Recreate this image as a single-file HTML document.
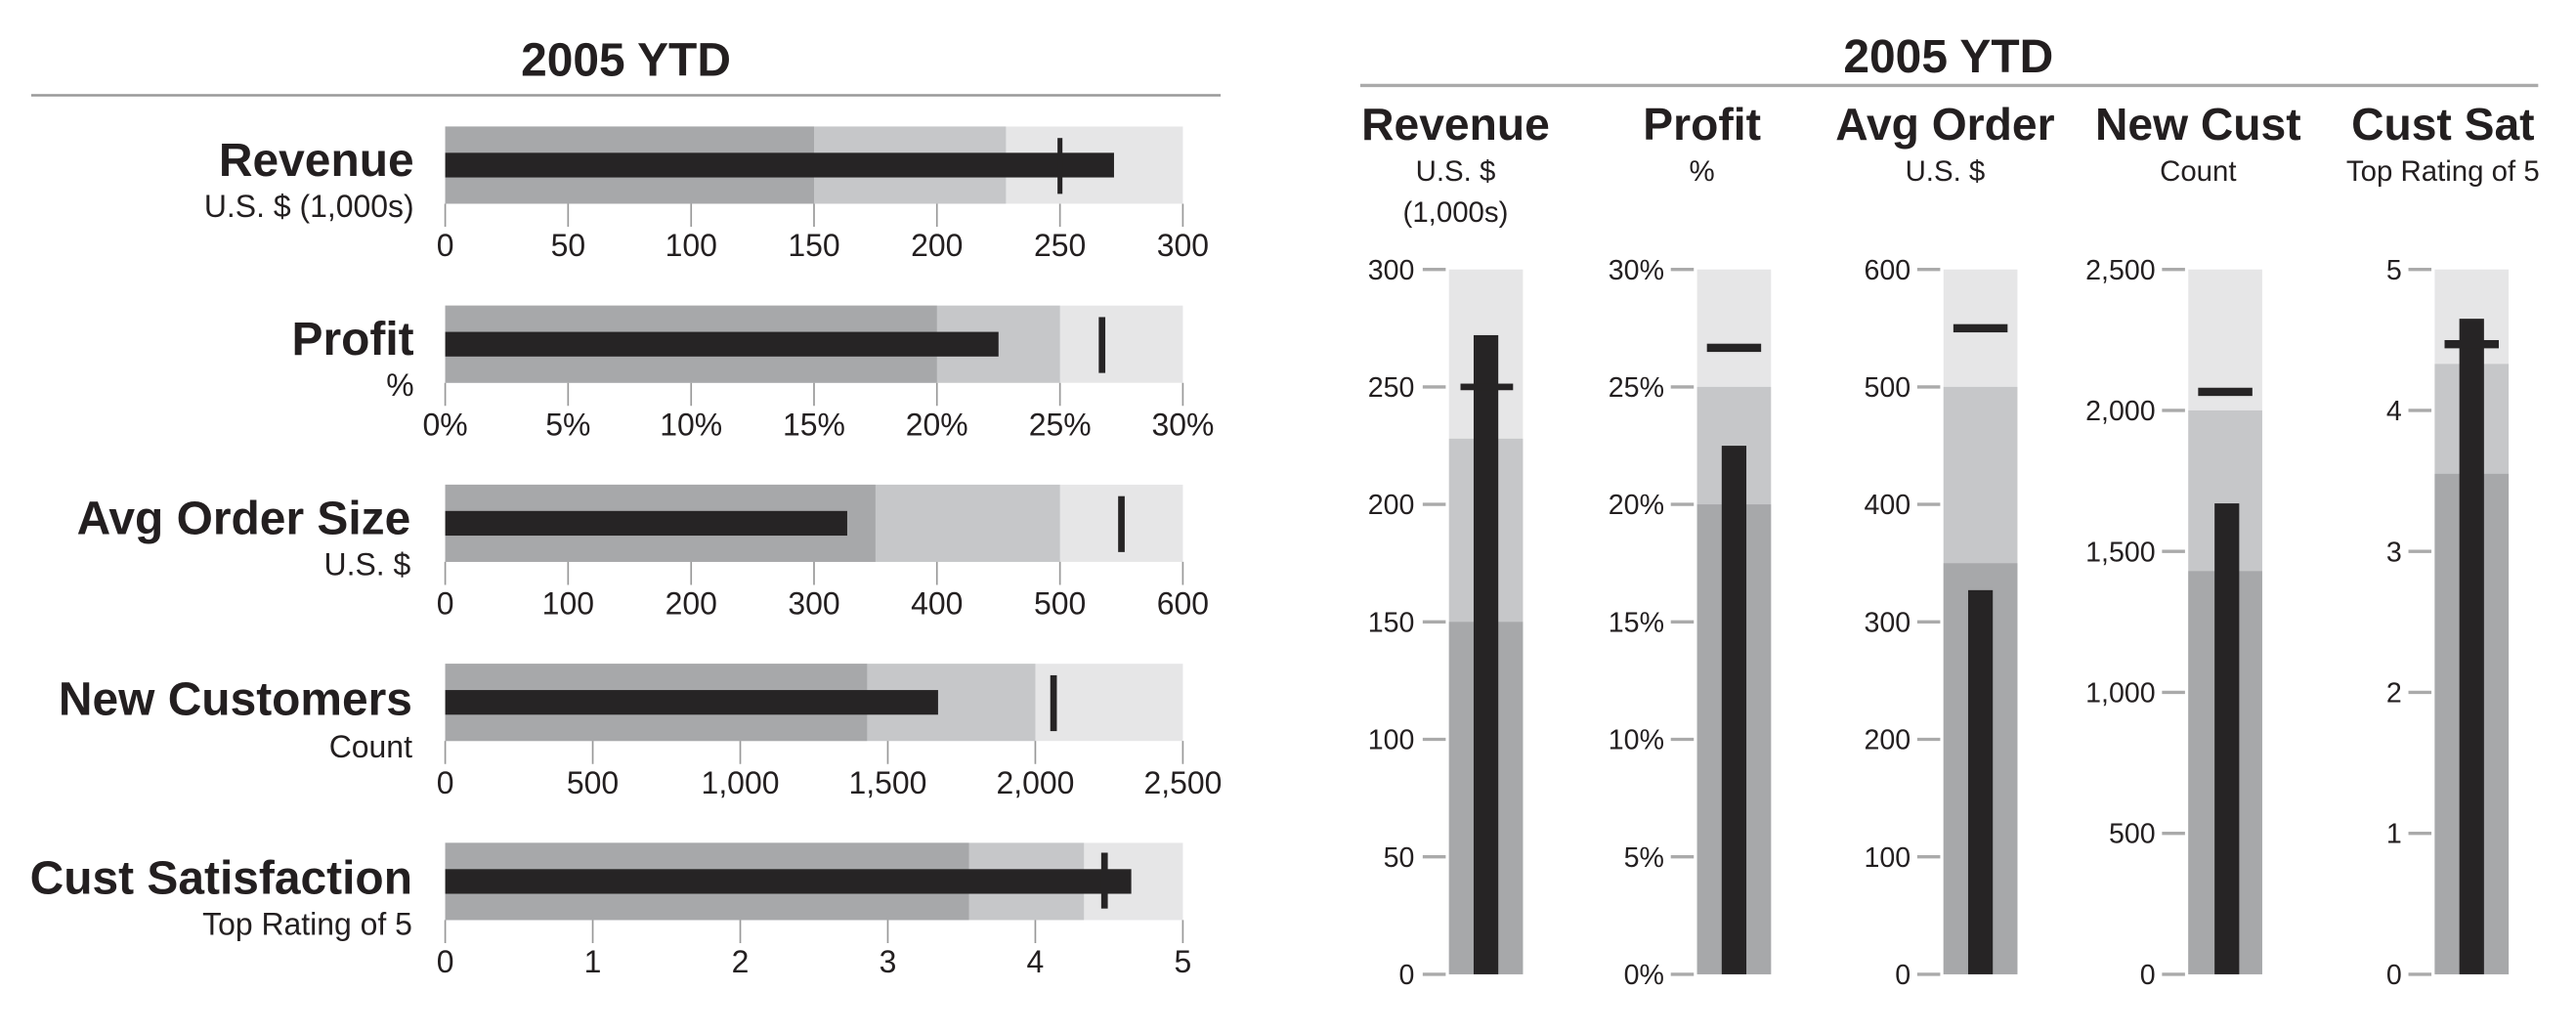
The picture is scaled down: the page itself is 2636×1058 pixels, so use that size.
<!DOCTYPE html>
<html><head><meta charset="utf-8"><style>
html,body{margin:0;padding:0;background:#fff;}
svg{display:block;}
text{fill:#231f20;font-family:"Liberation Sans",sans-serif;}
.t{font-weight:bold;font-size:28.5px;}
.t2{font-weight:bold;font-size:27.5px;}
.s{font-size:19px;}
.s2{font-size:17.5px;}
.r{font-size:17px;}
.k{font-size:19px;}
.d{fill:#a7a8aa}.m{fill:#c6c7c9}.l{fill:#e6e6e7}.a{fill:#262425}
</style></head><body>
<svg width="2636" height="1058" viewBox="0 0 1568 629.35" preserveAspectRatio="none" xmlns="http://www.w3.org/2000/svg">
<rect width="1568" height="630" fill="#fff"/>
<!-- LEFT -->
<text class="t" x="381" y="46" text-anchor="middle">2005 YTD</text>
<line x1="19" y1="58" x2="743" y2="58" stroke="#999" stroke-width="1.5"/>
<g>
<rect class="l" x="271" y="77" width="449" height="47"/>
<rect class="m" x="271" y="77" width="341.3" height="47"/>
<rect class="d" x="271" y="77" width="224.5" height="47"/>
<rect class="a" x="271" y="93" width="407.1" height="15"/>
<rect class="a" x="643.7" y="84" width="3" height="34"/>
<text class="t" x="252" y="107" text-anchor="end">Revenue</text>
<text class="s" x="252" y="132" text-anchor="end">U.S. $ (1,000s)</text>
</g>
<g>
<rect class="l" x="271" y="186" width="449" height="47"/>
<rect class="m" x="271" y="186" width="374.2" height="47"/>
<rect class="d" x="271" y="186" width="299.3" height="47"/>
<rect class="a" x="271" y="202" width="336.8" height="15"/>
<rect class="a" x="668.8" y="193" width="4" height="34"/>
<text class="t" x="252" y="216" text-anchor="end">Profit</text>
<text class="s" x="252" y="241" text-anchor="end">%</text>
</g>
<g>
<rect class="l" x="271" y="295" width="449" height="47"/>
<rect class="m" x="271" y="295" width="374.2" height="47"/>
<rect class="d" x="271" y="295" width="261.9" height="47"/>
<rect class="a" x="271" y="311" width="244.7" height="15"/>
<rect class="a" x="680.6" y="302" width="4" height="34"/>
<text class="t" x="250" y="325" text-anchor="end">Avg Order Size</text>
<text class="s" x="250" y="350" text-anchor="end">U.S. $</text>
</g>
<g>
<rect class="l" x="271" y="404" width="449" height="47"/>
<rect class="m" x="271" y="404" width="359.2" height="47"/>
<rect class="d" x="271" y="404" width="256.8" height="47"/>
<rect class="a" x="271" y="420" width="300" height="15"/>
<rect class="a" x="639.3" y="411" width="4" height="34"/>
<text class="t" x="251" y="435" text-anchor="end">New Customers</text>
<text class="s" x="251" y="461" text-anchor="end">Count</text>
</g>
<g>
<rect class="l" x="271" y="513" width="449" height="47"/>
<rect class="m" x="271" y="513" width="388.8" height="47"/>
<rect class="d" x="271" y="513" width="318.8" height="47"/>
<rect class="a" x="271" y="529" width="417.6" height="15"/>
<rect class="a" x="670.3" y="519" width="4" height="34"/>
<text class="t" x="251" y="544" text-anchor="end">Cust Satisfaction</text>
<text class="s" x="251" y="569" text-anchor="end">Top Rating of 5</text>
</g>
<g stroke="#999" stroke-width="1">
<path d="M271 124v14M345.8 124v14M420.7 124v14M495.5 124v14M570.3 124v14M645.2 124v14M720 124v14"/>
<path d="M271 233v14M345.8 233v14M420.7 233v14M495.5 233v14M570.3 233v14M645.2 233v14M720 233v14"/>
<path d="M271 342v14M345.8 342v14M420.7 342v14M495.5 342v14M570.3 342v14M645.2 342v14M720 342v14"/>
<path d="M271 451v14M360.8 451v14M450.6 451v14M540.4 451v14M630.2 451v14M720 451v14"/>
<path d="M271 560v14M360.8 560v14M450.6 560v14M540.4 560v14M630.2 560v14M720 560v14"/>
</g>
<g text-anchor="middle">
<text class="k" x="271" y="156">0</text><text class="k" x="345.8" y="156">50</text><text class="k" x="420.7" y="156">100</text><text class="k" x="495.5" y="156">150</text><text class="k" x="570.3" y="156">200</text><text class="k" x="645.2" y="156">250</text><text class="k" x="720" y="156">300</text>
<text class="k" x="271" y="265">0%</text><text class="k" x="345.8" y="265">5%</text><text class="k" x="420.7" y="265">10%</text><text class="k" x="495.5" y="265">15%</text><text class="k" x="570.3" y="265">20%</text><text class="k" x="645.2" y="265">25%</text><text class="k" x="720" y="265">30%</text>
<text class="k" x="271" y="374">0</text><text class="k" x="345.8" y="374">100</text><text class="k" x="420.7" y="374">200</text><text class="k" x="495.5" y="374">300</text><text class="k" x="570.3" y="374">400</text><text class="k" x="645.2" y="374">500</text><text class="k" x="720" y="374">600</text>
<text class="k" x="271" y="483">0</text><text class="k" x="360.8" y="483">500</text><text class="k" x="450.6" y="483">1,000</text><text class="k" x="540.4" y="483">1,500</text><text class="k" x="630.2" y="483">2,000</text><text class="k" x="720" y="483">2,500</text>
<text class="k" x="271" y="592">0</text><text class="k" x="360.8" y="592">1</text><text class="k" x="450.6" y="592">2</text><text class="k" x="540.4" y="592">3</text><text class="k" x="630.2" y="592">4</text><text class="k" x="720" y="592">5</text>
</g>
<!-- RIGHT -->
<text class="t" x="1186" y="44" text-anchor="middle">2005 YTD</text>
<line x1="828" y1="52" x2="1545" y2="52" stroke="#aaa" stroke-width="2"/>
<g text-anchor="middle">
<text class="t2" x="886" y="85">Revenue</text><text class="s2" x="886" y="110">U.S. $</text><text class="s2" x="886" y="135">(1,000s)</text>
<text class="t2" x="1036" y="85">Profit</text><text class="s2" x="1036" y="110">%</text>
<text class="t2" x="1184" y="85">Avg Order</text><text class="s2" x="1184" y="110">U.S. $</text>
<text class="t2" x="1338" y="85">New Cust</text><text class="s2" x="1338" y="110">Count</text>
<text class="t2" x="1487" y="85">Cust Sat</text><text class="s2" x="1487" y="110">Top Rating of 5</text>
</g>
<rect class="l" x="882" y="164" width="45" height="429"/>
<rect class="m" x="882" y="267" width="45" height="326"/>
<rect class="d" x="882" y="378.5" width="45" height="214.5"/>
<rect class="a" x="897" y="204" width="15" height="389"/>
<rect class="a" x="889" y="233.5" width="32" height="4"/>
<rect class="l" x="1033" y="164" width="45" height="429"/>
<rect class="m" x="1033" y="235.5" width="45" height="357.5"/>
<rect class="d" x="1033" y="307" width="45" height="286"/>
<rect class="a" x="1048" y="271.3" width="15" height="321.7"/>
<rect class="a" x="1039" y="209.2" width="33" height="5"/>
<rect class="l" x="1183" y="164" width="45" height="429"/>
<rect class="m" x="1183" y="235.5" width="45" height="357.5"/>
<rect class="d" x="1183" y="342.8" width="45" height="250.2"/>
<rect class="a" x="1198" y="359.2" width="15" height="233.8"/>
<rect class="a" x="1189" y="197.3" width="33" height="5"/>
<rect class="l" x="1332" y="164" width="45" height="429"/>
<rect class="m" x="1332" y="249.8" width="45" height="343.2"/>
<rect class="d" x="1332" y="347.6" width="45" height="245.4"/>
<rect class="a" x="1348" y="306.4" width="15" height="286.6"/>
<rect class="a" x="1338" y="236" width="33" height="5"/>
<rect class="l" x="1482" y="164" width="45" height="429"/>
<rect class="m" x="1482" y="221.5" width="45" height="371.5"/>
<rect class="d" x="1482" y="288.4" width="45" height="304.6"/>
<rect class="a" x="1497" y="194" width="15" height="399"/>
<rect class="a" x="1488" y="207" width="33" height="5"/>
<g stroke="#aaa" stroke-width="2">
<path d="M866 593h14M866 521.5h14M866 450h14M866 378.5h14M866 307h14M866 235.5h14M866 164h14"/>
<path d="M1017 593h14M1017 521.5h14M1017 450h14M1017 378.5h14M1017 307h14M1017 235.5h14M1017 164h14"/>
<path d="M1167 593h14M1167 521.5h14M1167 450h14M1167 378.5h14M1167 307h14M1167 235.5h14M1167 164h14"/>
<path d="M1316 593h14M1316 507.2h14M1316 421.4h14M1316 335.6h14M1316 249.8h14M1316 164h14"/>
<path d="M1466 593h14M1466 507.2h14M1466 421.4h14M1466 335.6h14M1466 249.8h14M1466 164h14"/>
</g>
<g text-anchor="end">
<text class="r" x="861" y="599">0</text><text class="r" x="861" y="527.5">50</text><text class="r" x="861" y="456">100</text><text class="r" x="861" y="384.5">150</text><text class="r" x="861" y="313">200</text><text class="r" x="861" y="241.5">250</text><text class="r" x="861" y="170">300</text>
<text class="r" x="1013" y="599">0%</text><text class="r" x="1013" y="527.5">5%</text><text class="r" x="1013" y="456">10%</text><text class="r" x="1013" y="384.5">15%</text><text class="r" x="1013" y="313">20%</text><text class="r" x="1013" y="241.5">25%</text><text class="r" x="1013" y="170">30%</text>
<text class="r" x="1163" y="599">0</text><text class="r" x="1163" y="527.5">100</text><text class="r" x="1163" y="456">200</text><text class="r" x="1163" y="384.5">300</text><text class="r" x="1163" y="313">400</text><text class="r" x="1163" y="241.5">500</text><text class="r" x="1163" y="170">600</text>
<text class="r" x="1312" y="599">0</text><text class="r" x="1312" y="513.2">500</text><text class="r" x="1312" y="427.4">1,000</text><text class="r" x="1312" y="341.6">1,500</text><text class="r" x="1312" y="255.8">2,000</text><text class="r" x="1312" y="170">2,500</text>
<text class="r" x="1462" y="599">0</text><text class="r" x="1462" y="513.2">1</text><text class="r" x="1462" y="427.4">2</text><text class="r" x="1462" y="341.6">3</text><text class="r" x="1462" y="255.8">4</text><text class="r" x="1462" y="170">5</text>
</g>
</svg>
</body></html>
